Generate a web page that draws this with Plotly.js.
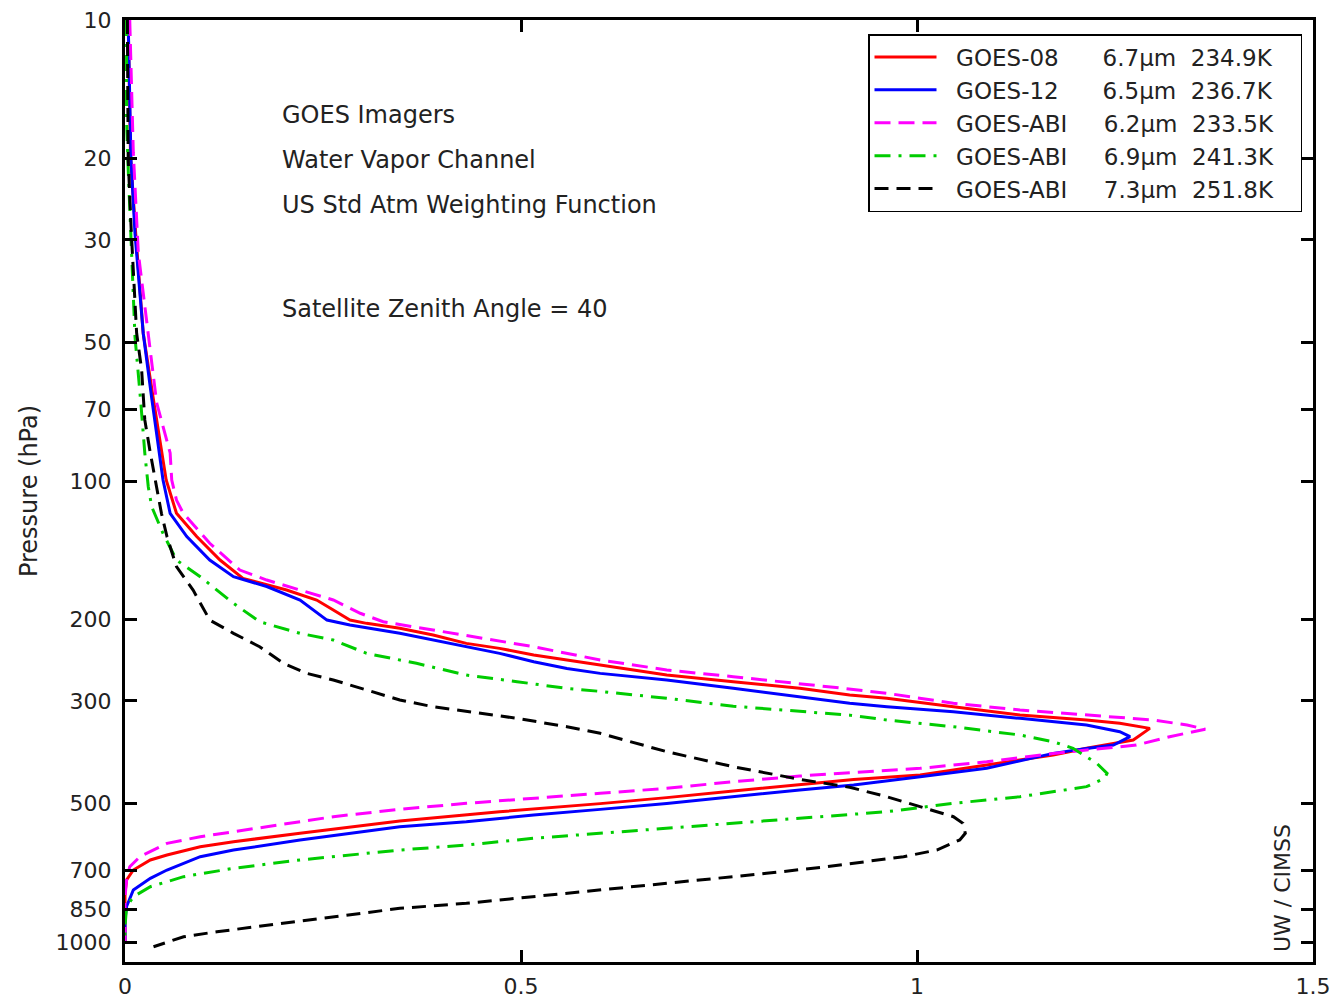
<!DOCTYPE html>
<html>
<head>
<meta charset="utf-8">
<script src="https://cdn.plot.ly/plotly-3.0.1.min.js"></script>
<style>html,body{margin:0;padding:0;background:#fff;}#chart{width:1338px;height:1000px;}</style>
</head>
<body>
<div id="chart"></div>
<script>
// ---- Data (pressure in hPa, normalized weighting function) ----
const satellites = ['GOES-08', 'GOES-12', 'GOES-ABI', 'GOES-ABI', 'GOES-ABI'];
const channels = ['6.7µm', '6.5µm', '6.2µm', '6.9µm', '7.3µm'];
const brightnessTemps = ['234.9K', '236.7K', '233.5K', '241.3K', '251.8K'];

const goes08P = [10, 19.8, 29, 47.8, 66.7, 99.5, 117.5, 132, 148.4, 162.6, 172.4, 181.2, 190.4, 200.3, 203.6, 208.7, 215.8, 225, 230.7, 238.5, 244.5, 250.6, 263.6, 272.5, 281.7, 291.2, 296, 308.8, 321.8, 329.9, 335.4, 344, 364.6, 380, 392.9, 413, 434.2, 444, 454.9, 470.4, 486.2, 501, 521.7, 546.4, 581, 606, 621.5, 647.6, 663.8, 698, 733.6, 783, 1000];
const goes08W = [0.004, 0.007, 0.0135, 0.023, 0.036, 0.052, 0.065, 0.0905, 0.12, 0.149, 0.204, 0.242, 0.263, 0.284, 0.305, 0.347, 0.389, 0.431, 0.473, 0.516, 0.558, 0.600, 0.684, 0.768, 0.852, 0.915, 0.962, 1.046, 1.130, 1.214, 1.256, 1.294, 1.273, 1.214, 1.172, 1.088, 1.004, 0.920, 0.852, 0.768, 0.684, 0.600, 0.473, 0.347, 0.221, 0.137, 0.095, 0.053, 0.032, 0.0105, 0.002, 0, 0];

const goes12P = [10, 20, 29, 47.8, 66.7, 99.5, 117.5, 132, 148.4, 161.3, 169.4, 181.2, 200.3, 205.3, 214, 221.3, 228.8, 236.5, 246.6, 255, 261.4, 270.2, 281.7, 293.8, 303.4, 308.8, 316.6, 327.2, 338.2, 349.8, 358.6, 373.9, 380.2, 389.8, 420, 437.8, 456.4, 468, 484, 500.4, 515.6, 530.4, 548.3, 562.2, 601, 631.7, 653, 698, 727.5, 771, 837.5, 895, 1000];
const goes12W = [0.004, 0.0075, 0.0126, 0.023, 0.034, 0.048, 0.057, 0.078, 0.107, 0.137, 0.179, 0.221, 0.255, 0.284, 0.347, 0.389, 0.431, 0.473, 0.516, 0.558, 0.600, 0.684, 0.768, 0.852, 0.915, 0.962, 1.046, 1.130, 1.214, 1.256, 1.269, 1.248, 1.214, 1.172, 1.088, 1.004, 0.920, 0.852, 0.768, 0.684, 0.600, 0.516, 0.431, 0.347, 0.221, 0.137, 0.095, 0.053, 0.032, 0.0105, 0.002, 0, 0];

const abi62P = [10, 19.4, 32, 48.6, 67.7, 86.9, 99.5, 110, 117.5, 136.5, 156, 164, 172.4, 181.2, 193.6, 202, 210.5, 219.4, 228.8, 244.5, 257, 265.8, 274.8, 281.7, 288.7, 303.5, 313.8, 321.9, 329.9, 338.3, 345.6, 358.6, 373.9, 383.4, 389.8, 406.4, 420, 429, 436.5, 449, 464.1, 475.8, 487.9, 500.2, 515.5, 534.8, 562.3, 591, 610.9, 653, 686.6, 733.6, 800, 1000];
const abi62W = [0.006, 0.0105, 0.0168, 0.0294, 0.040, 0.057, 0.059, 0.065, 0.0736, 0.107, 0.145, 0.179, 0.221, 0.263, 0.297, 0.326, 0.389, 0.452, 0.516, 0.600, 0.684, 0.768, 0.852, 0.907, 0.962, 1.046, 1.130, 1.214, 1.298, 1.341, 1.364, 1.319, 1.277, 1.214, 1.172, 1.088, 1.004, 0.918, 0.852, 0.768, 0.684, 0.600, 0.516, 0.431, 0.347, 0.263, 0.179, 0.095, 0.053, 0.0189, 0.006, 0.002, 0, 0];

const abi69P = [10, 16.5, 21, 32, 48.6, 67.7, 87, 102.9, 113.7, 129.9, 148.4, 161.3, 184.2, 202, 214, 221.3, 236.5, 248.6, 263.6, 272.5, 281.7, 286, 296, 308, 319, 322, 330, 341.2, 355.6, 367.7, 380, 409.7, 430.7, 441.6, 460.3, 472, 484, 500.2, 521.7, 534.8, 552.7, 566.7, 581, 595.7, 616.1, 631.7, 663.8, 692, 721.6, 758.6, 797.5, 838.2, 926.5, 1000];
const abi69W = [0.002, 0.002, 0.004, 0.0085, 0.0126, 0.020, 0.025, 0.0294, 0.0337, 0.048, 0.065, 0.095, 0.137, 0.170, 0.221, 0.263, 0.305, 0.368, 0.431, 0.495, 0.558, 0.600, 0.684, 0.768, 0.878, 0.915, 0.962, 1.046, 1.130, 1.172, 1.197, 1.227, 1.240, 1.237, 1.214, 1.172, 1.130, 1.046, 0.962, 0.878, 0.768, 0.684, 0.600, 0.516, 0.431, 0.347, 0.221, 0.137, 0.074, 0.032, 0.0105, 0.002, 0, 0];

const abi73P = [10, 20, 29, 47.8, 57.4, 66.7, 73.7, 87, 104.6, 117.5, 132, 153.4, 172.4, 200.3, 214, 228.8, 248.6, 261.3, 270.2, 284.1, 298.5, 308.8, 319.1, 327.2, 341.2, 352.6, 386.5, 416.7, 443.7, 461.8, 484, 508.8, 534.8, 552.7, 581, 600.6, 631.7, 653, 675, 686.6, 709.6, 733.6, 771.2, 797.5, 824.2, 845.3, 881.5, 918.9, 950, 974, 1023.8];
const abi73W = [0.003, 0.004, 0.008, 0.0147, 0.021, 0.023, 0.025, 0.032, 0.040, 0.046, 0.053, 0.065, 0.086, 0.107, 0.137, 0.170, 0.200, 0.229, 0.263, 0.305, 0.347, 0.389, 0.452, 0.495, 0.558, 0.600, 0.684, 0.768, 0.852, 0.915, 0.962, 1.004, 1.046, 1.058, 1.061, 1.054, 1.025, 0.983, 0.920, 0.886, 0.810, 0.726, 0.600, 0.516, 0.431, 0.347, 0.263, 0.179, 0.116, 0.074, 0.036];

const pressureTicks = [10, 20, 30, 50, 70, 100, 200, 300, 500, 700, 850, 1000];
const pressureTickText = ['10', '20', '30', '50', '70', '100', '200', '300', '500', '700', '850', '1000'];
const weightTicks = [0, 0.5, 1, 1.5];
const weightTickText = ['0', '0.5', '1', '1.5'];

const infoLines = ['GOES Imagers', 'Water Vapor Channel', 'US Std Atm Weighting Function', 'Satellite Zenith Angle = 40'];

// ---- Build ----
const NB = '\u00a0';
function legendName(i) {
  const pad1 = satellites[i] === 'GOES-ABI' ? 5 : 6;
  return NB.repeat(2) + satellites[i] + NB.repeat(pad1) + channels[i] + NB.repeat(2) + brightnessTemps[i] + NB.repeat(3);
}

const series = [
  {x: goes08W, y: goes08P, color: '#ff0000', dash: 'solid'},
  {x: goes12W, y: goes12P, color: '#0000ff', dash: 'solid'},
  {x: abi62W, y: abi62P, color: '#ff00ff', dash: '16px,8px'},
  {x: abi69W, y: abi69P, color: '#00cc00', dash: '16px,8px,3px,8px'},
  {x: abi73W, y: abi73P, color: '#000000', dash: '14px,8px'}
];

const traces = series.map((s, i) => ({
  type: 'scatter',
  mode: 'lines',
  x: s.x,
  y: s.y,
  name: legendName(i),
  line: {color: s.color, width: 3, dash: s.dash},
  hoverinfo: 'skip'
}));

const FONT = 'DejaVu Sans, Liberation Sans, Arial, sans-serif';

const plotL = 125, plotR = 1313, plotT = 20, plotB = 962;
const W = 1338, H = 1000;
const pw = plotR - plotL, ph = plotB - plotT;
function px2x(px) { return (px - plotL) / pw; }
function py2y(py) { return 1 - (py - plotT) / ph; }

const infoY = [115, 160, 205, 309];
const annotations = infoLines.map((t, i) => ({
  text: t, xref: 'paper', yref: 'paper', x: px2x(280), y: py2y(infoY[i]),
  xanchor: 'left', yanchor: 'middle', showarrow: false,
  font: {family: FONT, size: 24, color: '#222'}
}));
annotations.push({
  text: 'UW / CIMSS', xref: 'paper', yref: 'paper', x: px2x(1282), y: py2y(888),
  xanchor: 'center', yanchor: 'middle', textangle: -90, showarrow: false,
  font: {family: FONT, size: 22, color: '#222'}
});

const layout = {
  width: W, height: H,
  margin: {l: plotL, r: W - plotR, t: plotT, b: H - plotB, pad: 0},
  paper_bgcolor: '#ffffff', plot_bgcolor: '#ffffff',
  font: {family: FONT, size: 22, color: '#222'},
  showlegend: true,
  legend: {
    x: px2x(1302), y: py2y(34), xanchor: 'right', yanchor: 'top',
    bgcolor: '#ffffff', bordercolor: '#000000', borderwidth: 1.5,
    font: {family: FONT, size: 23, color: '#222'},
    itemwidth: 62, tracegroupgap: 0
  },
  xaxis: {
    range: [0, 1.5], tickvals: weightTicks, ticktext: weightTickText,
    showgrid: false, zeroline: false, showline: true, linecolor: '#000', linewidth: 3,
    mirror: 'ticks', ticks: 'inside', ticklen: 12, tickwidth: 3, tickcolor: '#000',
    tickfont: {family: FONT, size: 22, color: '#222'}, ticklabelstandoff: 3
  },
  yaxis: {
    type: 'log', range: [Math.log10(1105), 1],
    tickvals: pressureTicks, ticktext: pressureTickText,
    showgrid: false, zeroline: false, showline: true, linecolor: '#000', linewidth: 3,
    mirror: 'ticks', ticks: 'inside', ticklen: 12, tickwidth: 3, tickcolor: '#000',
    tickfont: {family: FONT, size: 22, color: '#222'}, ticklabelstandoff: 6,
    title: {text: 'Pressure (hPa)', font: {family: FONT, size: 24, color: '#222'}, standoff: 12}
  },
  annotations: annotations
};

Plotly.newPlot('chart', traces, layout, {displayModeBar: false, staticPlot: true});
</script>
</body>
</html>
